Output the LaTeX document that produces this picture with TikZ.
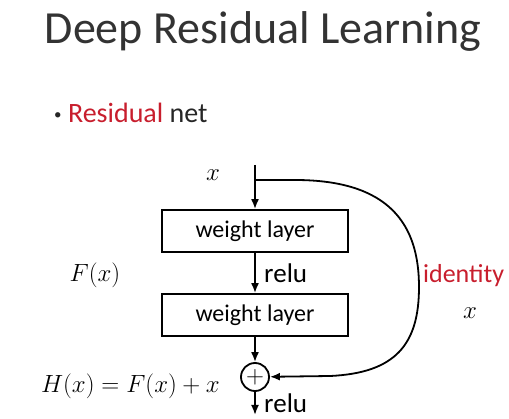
\documentclass[tikz,border=0pt]{standalone}
\usepackage{fontspec}
\setmainfont{Carlito}
\usetikzlibrary{arrows.meta}
\definecolor{resred}{RGB}{200,30,45}

\begin{document}
\begin{tikzpicture}[x=1pt, y=-1pt, line width=1.8pt,
    layer/.style={draw, minimum width=186pt, minimum height=42pt, inner sep=0pt, font=\fontsize{24}{28}\selectfont},
    lbl/.style={font=\fontsize{27}{30}\selectfont, xshift=5pt},
    mth/.style={font=\fontsize{30}{34}\selectfont},
    arr/.style={-{Latex[length=10pt,width=8pt]}}]
  \useasboundingbox (0,0) rectangle (509,419);
  % Heading
  \node[anchor=base, font=\fontsize{46}{50}\selectfont, text=black!80] (title) at (263,44) {Deep Residual Learning};
  \node[anchor=base west, font=\fontsize{28}{30}\selectfont, text=black!85] (bullet) at (50,123)
    {\raisebox{3pt}{\fontsize{15}{15}\selectfont\textbullet}\ \textcolor{resred}{Residual} net};
  % Block
  \node[layer] (w1) at (255,231) {weight layer};
  \node[layer] (w2) at (255,315) {weight layer};
  \node[draw, circle, inner sep=0pt, minimum size=28pt, font=\fontsize{26}{28}\selectfont] (add) at (255,377) {$+$};
  \coordinate (in) at (255,165);
  \coordinate (split) at (255,180);
  \coordinate (out) at (255,415);
  \draw[arr] (in) -- (w1);
  \draw[arr] (w1) -- node[right, lbl] (r1) {relu} (w2);
  \draw[arr] (w2) -- (add);
  \draw[arr] (add) -- node[right, lbl] (r2) {relu} (out);
  % Shortcut
  \draw[arr] (split) -- (295,180) .. controls (390,180) and (419,225) .. (419,287)
    .. controls (419,345) and (395,373) .. (330,376) -- (add);
  % Labels
  \node[mth] (xin) at (213,175) {$x$};
  \node[mth] (fx) at (95,275) {$F(x)$};
  \node[mth, anchor=base east] (hx) at (224,393) {$H(x) = F(x) + x$};
  \node[anchor=east, inner sep=1pt, text=resred, font=\fontsize{26}{30}\selectfont] (idt) at (506,276) {identity};
  \node[mth] (xid) at (470,313) {$x$};
\end{tikzpicture}
\end{document}
